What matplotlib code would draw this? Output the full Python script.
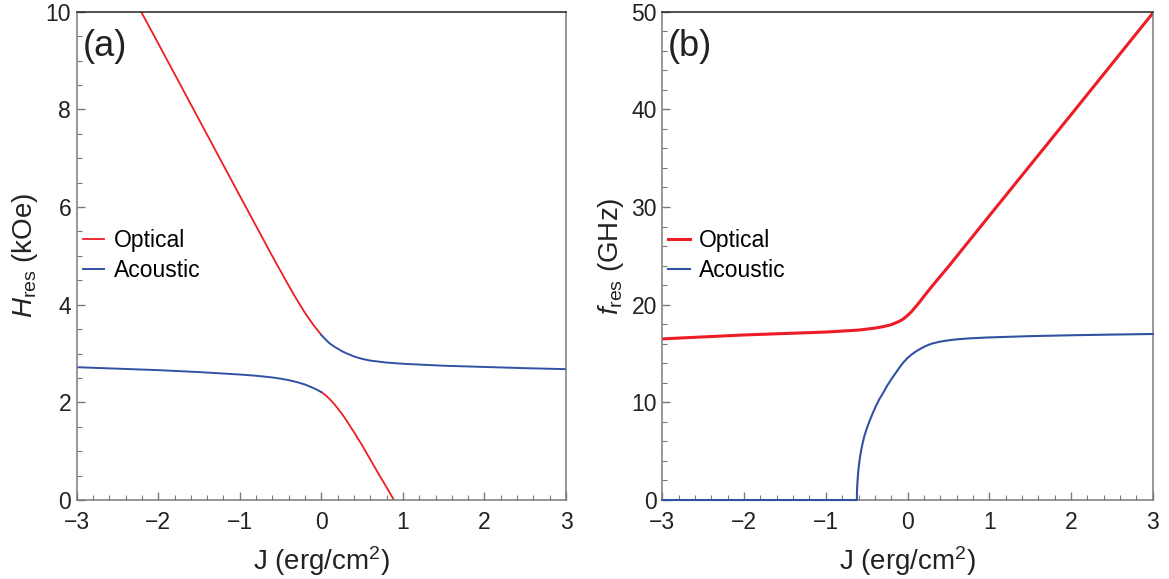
"""Coupled-mode resonance vs interlayer coupling J: (a) H_res, (b) f_res."""
import matplotlib
matplotlib.use("Agg")
import matplotlib.pyplot as plt
from matplotlib.ticker import MultipleLocator

plt.rcParams["font.family"] = ["Liberation Sans", "DejaVu Sans"]
plt.rcParams["mathtext.fontset"] = "custom"
plt.rcParams["mathtext.rm"] = "Liberation Sans"
plt.rcParams["mathtext.it"] = "Liberation Sans:italic"

RED = "#ee1c24"
BLUE = "#3152a3"
AXGRAY = "#7a7a7a"
INK = "#222222"

# ---- (a) resonance field, kOe (branches swap colour at J = 0) ----
opt_hi_J = [-2.21, -2.0, -1.5, -1.0, -0.8, -0.6, -0.5, -0.4, -0.3, -0.2, -0.1, 0.0]
opt_hi_H = [10.0, 9.35, 7.79, 6.23, 5.61, 4.99, 4.69, 4.39, 4.10, 3.83, 3.59, 3.38]
opt_lo_J = [0.0, 0.05, 0.1, 0.15, 0.2, 0.25, 0.3, 0.4, 0.5, 0.6, 0.7, 0.8, 0.89]
opt_lo_H = [2.21, 2.15, 2.07, 1.98, 1.88, 1.77, 1.65, 1.39, 1.12, 0.83, 0.54, 0.26, 0.0]
aco_lo_J = [-3.0, -2.5, -2.0, -1.5, -1.0, -0.8, -0.6, -0.5, -0.4, -0.3, -0.2, -0.15,
            -0.1, -0.05, 0.0]
aco_lo_H = [2.72, 2.69, 2.66, 2.62, 2.57, 2.545, 2.51, 2.485, 2.455, 2.415, 2.365, 2.33,
            2.295, 2.255, 2.21]
aco_hi_J = [0.0, 0.05, 0.1, 0.15, 0.2, 0.25, 0.3, 0.4, 0.5, 0.6, 0.8, 1.0, 1.5, 2.0,
            2.5, 3.0]
aco_hi_H = [3.38, 3.29, 3.21, 3.15, 3.10, 3.05, 3.01, 2.94, 2.89, 2.855, 2.815, 2.79,
            2.75, 2.725, 2.70, 2.68]

# ---- (b) resonance frequency, GHz ----
opt_f_J = [-3.0, -2.5, -2.0, -1.5, -1.0, -0.6, -0.4, -0.3, -0.2, -0.1, -0.05, 0.0, 0.05,
           0.1, 0.15, 0.2, 0.3, 0.4, 0.5, 1.0, 2.0, 3.0]
opt_f = [16.5, 16.7, 16.9, 17.05, 17.2, 17.4, 17.6, 17.75, 17.95, 18.3, 18.55, 18.9,
         19.3, 19.8, 20.3, 20.85, 21.9, 22.9, 23.9, 29.1, 39.45, 49.85]
aco_f_J = [-3.0, -0.62, -0.619, -0.617, -0.614, -0.61, -0.605, -0.60, -0.59, -0.58,
           -0.565, -0.55, -0.53, -0.5, -0.46, -0.42, -0.38, -0.34, -0.3, -0.25, -0.2,
           -0.15, -0.1, -0.05, 0.0, 0.05, 0.1, 0.15, 0.2, 0.25, 0.3, 0.4, 0.5, 0.6,
           0.75, 1.0, 1.5, 2.0, 2.5, 3.0]
aco_f = [0.0, 0.0, 0.7, 1.2, 1.7, 2.2, 2.75, 3.2, 3.9, 4.5, 5.2, 5.8, 6.5, 7.3, 8.2,
         9.0, 9.75, 10.4, 10.95, 11.7, 12.35, 12.95, 13.55, 14.1, 14.55, 14.9, 15.2,
         15.45, 15.68, 15.87, 16.02, 16.22, 16.35, 16.45, 16.55, 16.65, 16.78, 16.87,
         16.94, 17.0]


def style(ax, ymax, ymaj, ymin):
    ax.set_xlim(-3, 3)
    ax.set_ylim(0, ymax)
    ax.xaxis.set_major_locator(MultipleLocator(1))
    ax.xaxis.set_minor_locator(MultipleLocator(0.2))
    ax.yaxis.set_major_locator(MultipleLocator(ymaj))
    ax.yaxis.set_minor_locator(MultipleLocator(ymin))
    ax.tick_params(which="both", direction="in", top=False, right=False,
                   color=AXGRAY, labelsize=16.5, labelcolor=INK)
    ax.tick_params(axis="x", which="both", pad=8)
    ax.tick_params(axis="y", which="both", pad=4)
    ax.tick_params(which="major", length=6, width=1)
    ax.tick_params(which="minor", length=3.5, width=0.8)
    for s in ("left", "bottom", "right"):
        ax.spines[s].set_color(AXGRAY)
        ax.spines[s].set_linewidth(1.1)
    ax.spines["top"].set_color(INK)
    ax.spines["top"].set_linewidth(1.1)
    ax.set_xlabel(r"J (erg/cm$^2$)", fontsize=20, color=INK, labelpad=7)


fig = plt.figure(figsize=(11.69, 5.79), dpi=100)
axa = fig.add_axes([0.0656, 0.1364, 0.4186, 0.8434])
axb = fig.add_axes([0.5666, 0.1364, 0.4195, 0.8434])

# (a)
axa.plot(opt_hi_J, opt_hi_H, color=RED, lw=1.3, label="Optical")
axa.plot(opt_lo_J, opt_lo_H, color=RED, lw=1.3)
axa.plot(aco_lo_J, aco_lo_H, color=BLUE, lw=1.4, label="Acoustic")
axa.plot(aco_hi_J, aco_hi_H, color=BLUE, lw=1.4)
style(axa, 10, 2, 0.5)
axa.set_ylabel(r"$H_{\mathrm{res}}$ (kOe)", fontsize=20, color=INK)
axa.text(0.012, 0.928, "(a)", transform=axa.transAxes, fontsize=26,
         va="center", ha="left", color=INK)

# (b)
axb.plot(opt_f_J, opt_f, color=RED, lw=2.2, label="Optical")
axb.plot(aco_f_J, aco_f, color=BLUE, lw=1.5, label="Acoustic", clip_on=False,
         zorder=5)
style(axb, 50, 10, 2)
axb.set_ylabel(r"$f_{\mathrm{res}}$ (GHz)", fontsize=20, color=INK)
axb.text(0.012, 0.928, "(b)", transform=axb.transAxes, fontsize=26,
         va="center", ha="left", color=INK)

for ax in (axa, axb):
    ax.legend(loc="center left", bbox_to_anchor=(0.012, 0.50), frameon=False,
              fontsize=16.5, handlelength=0.95, handletextpad=0.4,
              labelspacing=0.3, borderpad=0, borderaxespad=0)

fig.savefig("out.png", dpi=100)
